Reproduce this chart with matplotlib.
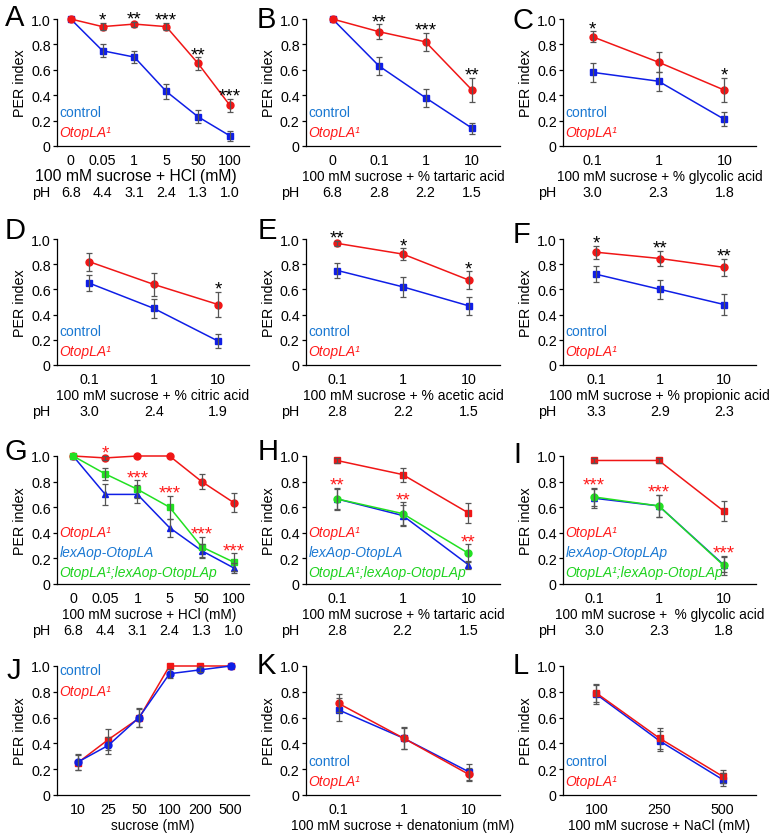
import matplotlib
matplotlib.use('Agg')
import matplotlib.pyplot as plt
import matplotlib.transforms as mtransforms
import numpy as np

plt.rcParams['font.family'] = ['Liberation Sans', 'DejaVu Sans']

W, H = 776, 837
DPI = 100

BLUE = '#0f1ee6'
RED = '#f01616'
GREEN = '#22e022'
BLUE_TXT = '#1a78d2'
RED_TXT = '#ff1a1a'
GREEN_TXT = '#1ed21e'
ERR = '#555555'

MUT = 'OtopLA\u00b9'
RESCUE = 'OtopLA\u00b9;lexAop-OtopLAp'

# --- data ---
HCL_X = ['0', '0.05', '1', '5', '50', '100']
HCL_PH = ['6.8', '4.4', '3.1', '2.4', '1.3', '1.0']
PCT_X = ['0.1', '1', '10']

A_CTRL = [1.0, 0.75, 0.70, 0.43, 0.23, 0.08]
A_CTRL_ERR = [0, 0.05, 0.05, 0.06, 0.05, 0.04]
A_MUT = [1.0, 0.94, 0.96, 0.94, 0.65, 0.32]
A_MUT_ERR = [0, 0.03, 0.02, 0.03, 0.05, 0.05]
A_STARS = ['', '*', '**', '***', '**', '***']

B_X = ['0', '0.1', '1', '10']
B_PH = ['6.8', '2.8', '2.2', '1.5']
B_CTRL = [1.0, 0.63, 0.38, 0.14]
B_CTRL_ERR = [0, 0.07, 0.07, 0.045]
B_MUT = [1.0, 0.90, 0.82, 0.44]
B_MUT_ERR = [0, 0.06, 0.07, 0.095]
B_STARS = ['', '**', '***', '**']

C_PH = ['3.0', '2.3', '1.8']
C_CTRL = [0.58, 0.51, 0.21]
C_CTRL_ERR = [0.075, 0.075, 0.055]
C_MUT = [0.86, 0.66, 0.44]
C_MUT_ERR = [0.045, 0.08, 0.095]
C_STARS = ['*', '', '*']

D_PH = ['3.0', '2.4', '1.9']
D_CTRL = [0.65, 0.45, 0.19]
D_CTRL_ERR = [0.065, 0.075, 0.055]
D_MUT = [0.82, 0.64, 0.48]
D_MUT_ERR = [0.07, 0.09, 0.10]
D_STARS = ['', '', '*']

E_PH = ['2.8', '2.2', '1.5']
E_CTRL = [0.75, 0.62, 0.47]
E_CTRL_ERR = [0.06, 0.08, 0.07]
E_MUT = [0.965, 0.88, 0.675]
E_MUT_ERR = [0.02, 0.045, 0.07]
E_STARS = ['**', '*', '*']

F_PH = ['3.3', '2.9', '2.3']
F_CTRL = [0.72, 0.60, 0.48]
F_CTRL_ERR = [0.065, 0.075, 0.08]
F_MUT = [0.895, 0.845, 0.775]
F_MUT_ERR = [0.05, 0.06, 0.07]
F_STARS = ['*', '**', '**']

G_MUT = [1.0, 0.985, 1.0, 1.0, 0.80, 0.635]
G_MUT_ERR = [0, 0.015, 0, 0, 0.06, 0.075]
G_LEX = [1.0, 0.70, 0.70, 0.44, 0.26, 0.125]
G_LEX_ERR = [0, 0.08, 0.07, 0.07, 0.055, 0.04]
G_RES = [1.0, 0.86, 0.74, 0.60, 0.29, 0.17]
G_RES_ERR = [0, 0.05, 0.07, 0.09, 0.08, 0.07]
G_STARS = ['', '*', '***', '***', '***', '***']

H_PH = ['2.8', '2.2', '1.5']
H_MUT = [0.965, 0.855, 0.555]
H_MUT_ERR = [0.02, 0.055, 0.08]
H_LEX = [0.665, 0.535, 0.15]
H_LEX_ERR = [0.08, 0.08, 0.03]
H_RES = [0.665, 0.55, 0.24]
H_RES_ERR = [0.085, 0.09, 0.07]
H_STARS = ['**', '**', '**']

I_PH = ['3.0', '2.3', '1.8']
I_MUT = [0.965, 0.965, 0.57]
I_MUT_ERR = [0.02, 0.02, 0.08]
I_LEX = [0.67, 0.61, 0.15]
I_LEX_ERR = [0.075, 0.085, 0.06]
I_RES = [0.68, 0.61, 0.145]
I_RES_ERR = [0.07, 0.085, 0.075]
I_STARS = ['***', '***', '***']

J_X = ['10', '25', '50', '100', '200', '500']
J_CTRL = [0.255, 0.385, 0.60, 0.94, 0.97, 1.0]
J_CTRL_ERR = [0.065, 0.065, 0.075, 0.035, 0.02, 0]
J_MUT = [0.25, 0.43, 0.595, 1.0, 1.0, 1.0]
J_MUT_ERR = [0.06, 0.08, 0.07, 0, 0, 0]

K_CTRL = [0.66, 0.44, 0.18]
K_CTRL_ERR = [0.09, 0.08, 0.06]
K_MUT = [0.71, 0.44, 0.16]
K_MUT_ERR = [0.07, 0.085, 0.05]

L_X = ['100', '250', '500']
L_CTRL = [0.78, 0.42, 0.12]
L_CTRL_ERR = [0.075, 0.08, 0.05]
L_MUT = [0.79, 0.44, 0.145]
L_MUT_ERR = [0.07, 0.08, 0.05]


def s(vals, errs, color, marker, ms=4.5):
    return dict(vals=vals, errs=errs, color=color, marker=marker, ms=ms)


def px_axes(fig, left, top, right, bottom):
    return fig.add_axes([left / W, 1 - bottom / H, (right - left) / W, (bottom - top) / H])


def offset(ax, dx, dy):
    return mtransforms.ScaledTranslation(dx / DPI, dy / DPI, ax.figure.dpi_scale_trans)


def draw_panel(ax, xlabels, xlim, xlabel, series, ph=None, stars=None,
               star_color='black', star_from=None, legend=None, legend_y=None,
               xlabel_size=9.8, xlabel_dx=0):
    x = np.arange(len(xlabels))
    for sr in series:
        ax.plot(x, sr['vals'], color=sr['color'], lw=1.1, marker=sr['marker'],
                ms=sr['ms'], mec=sr['color'], mfc=sr['color'], zorder=3, clip_on=False)
    for sr in series:
        v = np.array(sr['vals'])
        e = np.array(sr['errs'])
        keep = e > 0
        ax.errorbar(x[keep], v[keep], yerr=e[keep], fmt='none', ecolor=ERR,
                    elinewidth=0.9, capsize=2.4, capthick=0.9, zorder=4)

    ax.set_xlim(*xlim)
    ax.set_ylim(0, 1.0)
    ax.set_xticks(x)
    ax.set_xticklabels(xlabels)
    ax.set_yticks([0, 0.2, 0.4, 0.6, 0.8, 1.0])
    ax.set_yticklabels(['0', '0.2', '0.4', '0.6', '0.8', '1.0'])
    ax.tick_params(axis='x', length=0, pad=5, labelsize=10.3)
    ax.tick_params(axis='y', length=3, width=0.9, pad=1.5, labelsize=10.3)
    for side in ('top', 'right'):
        ax.spines[side].set_visible(False)
    for side in ('left', 'bottom'):
        ax.spines[side].set_linewidth(0.9)
    ax.set_ylabel('PER index', fontsize=10.3, labelpad=3)

    ax.text(0.5, 0, xlabel, transform=ax.transAxes + offset(ax, xlabel_dx, -30),
            ha='center', va='center', fontsize=xlabel_size)

    if ph is not None:
        tr = mtransforms.blended_transform_factory(ax.transData, ax.transAxes)
        for xi, p in zip(x, ph):
            ax.text(xi, 0, p, transform=tr + offset(ax, 0, -46),
                    ha='center', va='center', fontsize=10.3)
        ax.text(0, 0, 'pH', transform=ax.transAxes + offset(ax, -25, -46),
                ha='left', va='center', fontsize=10.3)

    if stars is not None:
        idx = star_from if star_from is not None else range(len(series))
        others = [j for j in range(len(series)) if j not in idx]
        for i, st in enumerate(stars):
            if not st:
                continue
            top = max(series[j]['vals'][i] + series[j]['errs'][i] for j in idx)
            for j in others:
                if abs(top + 0.07 - series[j]['vals'][i]) < 0.1:
                    top = max(top, series[j]['vals'][i] + series[j]['errs'][i])
            ax.text(x[i], top - 0.015, st, ha='center', va='baseline',
                    color=star_color, fontsize=13.5)

    if legend is not None:
        tr = mtransforms.blended_transform_factory(ax.transAxes, ax.transData)
        for (txt, col, italic), yy in zip(legend, legend_y):
            ax.text(0.012, yy, txt, transform=tr, ha='left', va='center',
                    color=col, fontsize=10, style='italic' if italic else 'normal')


fig = plt.figure(figsize=(W / DPI, H / DPI), dpi=DPI)

COLS = [(57, 249), (306, 500), (563, 756)]
ROWS = [(20, 147), (240, 366), (457, 585), (667, 796)]

LEG2 = [('control', BLUE_TXT, False), (MUT, RED_TXT, True)]
LEG2_Y = [0.27, 0.11]
LEG3_Y = [0.41, 0.25, 0.09]

panels = [
    dict(letter='A', pos=(0, 0), xl=HCL_X, xlim=(-0.43, 5.6), xlabel='100 mM sucrose + HCl (mM)',
         series=[s(A_CTRL, A_CTRL_ERR, BLUE, 's'), s(A_MUT, A_MUT_ERR, RED, 'o', 5)],
         ph=HCL_PH, stars=A_STARS, legend=LEG2, legend_y=LEG2_Y, xlabel_size=11.3, xlabel_dx=-17),
    dict(letter='B', pos=(0, 1), xl=B_X, xlim=(-0.57, 3.6), xlabel='100 mM sucrose + % tartaric acid',
         series=[s(B_CTRL, B_CTRL_ERR, BLUE, 's'), s(B_MUT, B_MUT_ERR, RED, 'o', 5)],
         ph=B_PH, stars=B_STARS, legend=LEG2, legend_y=LEG2_Y),
    dict(letter='C', pos=(0, 2), xl=PCT_X, xlim=(-0.45, 2.48), xlabel='100 mM sucrose + % glycolic acid',
         series=[s(C_CTRL, C_CTRL_ERR, BLUE, 's'), s(C_MUT, C_MUT_ERR, RED, 'o', 5)],
         ph=C_PH, stars=C_STARS, legend=LEG2, legend_y=LEG2_Y),
    dict(letter='D', pos=(1, 0), xl=PCT_X, xlim=(-0.5, 2.48), xlabel='100 mM sucrose + % citric acid',
         series=[s(D_CTRL, D_CTRL_ERR, BLUE, 's'), s(D_MUT, D_MUT_ERR, RED, 'o', 5)],
         ph=D_PH, stars=D_STARS, legend=LEG2, legend_y=LEG2_Y, xlabel_size=10),
    dict(letter='E', pos=(1, 1), xl=PCT_X, xlim=(-0.48, 2.48), xlabel='100 mM sucrose + % acetic acid',
         series=[s(E_CTRL, E_CTRL_ERR, BLUE, 's'), s(E_MUT, E_MUT_ERR, RED, 'o', 5)],
         ph=E_PH, stars=E_STARS, legend=LEG2, legend_y=LEG2_Y, xlabel_size=10),
    dict(letter='F', pos=(1, 2), xl=PCT_X, xlim=(-0.52, 2.5), xlabel='100 mM sucrose + % propionic acid',
         series=[s(F_CTRL, F_CTRL_ERR, BLUE, 's'), s(F_MUT, F_MUT_ERR, RED, 'o', 5)],
         ph=F_PH, stars=F_STARS, legend=LEG2, legend_y=LEG2_Y, xlabel_size=10),
    dict(letter='G', pos=(2, 0), xl=HCL_X, xlim=(-0.5, 5.47), xlabel='100 mM sucrose + HCl (mM)',
         series=[s(G_MUT, G_MUT_ERR, RED, 'o', 5), s(G_LEX, G_LEX_ERR, BLUE, '^', 4.5),
                 s(G_RES, G_RES_ERR, GREEN, 's')],
         ph=HCL_PH, stars=G_STARS, star_color=RED_TXT, star_from=[1, 2],
         legend=[(MUT, RED_TXT, True), ('lexAop-OtopLA', BLUE_TXT, True), (RESCUE, GREEN_TXT, True)],
         legend_y=LEG3_Y, xlabel_dx=-4),
    dict(letter='H', pos=(2, 1), xl=PCT_X, xlim=(-0.47, 2.48), xlabel='100 mM sucrose + % tartaric acid',
         series=[s(H_MUT, H_MUT_ERR, RED, 's'), s(H_LEX, H_LEX_ERR, BLUE, '^', 4.5),
                 s(H_RES, H_RES_ERR, GREEN, 'o', 5)],
         ph=H_PH, stars=H_STARS, star_color=RED_TXT, star_from=[1, 2],
         legend=[(MUT, RED_TXT, True), ('lexAop-OtopLA', BLUE_TXT, True), (RESCUE, GREEN_TXT, True)],
         legend_y=LEG3_Y),
    dict(letter='I', pos=(2, 2), xl=PCT_X, xlim=(-0.48, 2.5), xlabel='100 mM sucrose +  % glycolic acid',
         series=[s(I_MUT, I_MUT_ERR, RED, 's'), s(I_LEX, I_LEX_ERR, BLUE, '^', 4.5),
                 s(I_RES, I_RES_ERR, GREEN, 'o', 5)],
         ph=I_PH, stars=I_STARS, star_color=RED_TXT, star_from=[1, 2],
         legend=[(MUT, RED_TXT, True), ('lexAop-OtopLAp', BLUE_TXT, True), (RESCUE, GREEN_TXT, True)],
         legend_y=LEG3_Y),
    dict(letter='J', pos=(3, 0), xl=J_X, xlim=(-0.68, 5.6), xlabel='sucrose (mM)',
         series=[s(J_MUT, J_MUT_ERR, RED, 's'), s(J_CTRL, J_CTRL_ERR, BLUE, 'o', 5)],
         legend=LEG2, legend_y=[0.97, 0.81]),
    dict(letter='K', pos=(3, 1), xl=PCT_X, xlim=(-0.5, 2.48), xlabel='100 mM sucrose + denatonium (mM)',
         series=[s(K_CTRL, K_CTRL_ERR, BLUE, 's'), s(K_MUT, K_MUT_ERR, RED, 'o', 5)],
         legend=LEG2, legend_y=[0.26, 0.11]),
    dict(letter='L', pos=(3, 2), xl=L_X, xlim=(-0.53, 2.53), xlabel='100 mM sucrose + NaCl (mM)',
         series=[s(L_CTRL, L_CTRL_ERR, BLUE, 's'), s(L_MUT, L_MUT_ERR, RED, 's')],
         legend=LEG2, legend_y=[0.26, 0.11]),
]

LETTER_XY = {'A': (5, 4), 'B': (257, 6), 'C': (513, 7),
             'D': (5, 217), 'E': (258, 217), 'F': (513, 221),
             'G': (5, 438), 'H': (258, 438), 'I': (513, 441),
             'J': (7, 657), 'K': (257, 652), 'L': (513, 652)}

for p in panels:
    r, c = p['pos']
    ax = px_axes(fig, COLS[c][0], ROWS[r][0], COLS[c][1], ROWS[r][1])
    draw_panel(ax, p['xl'], p['xlim'], p['xlabel'], p['series'], ph=p.get('ph'),
               stars=p.get('stars'), star_color=p.get('star_color', 'black'),
               star_from=p.get('star_from'), legend=p.get('legend'), legend_y=p.get('legend_y'),
               xlabel_size=p.get('xlabel_size', 9.8), xlabel_dx=p.get('xlabel_dx', 0))
    lx, ly = LETTER_XY[p['letter']]
    fig.text(lx / W, 1 - ly / H, p['letter'], fontsize=21, ha='left', va='top')

fig.savefig('out.png', dpi=DPI)
